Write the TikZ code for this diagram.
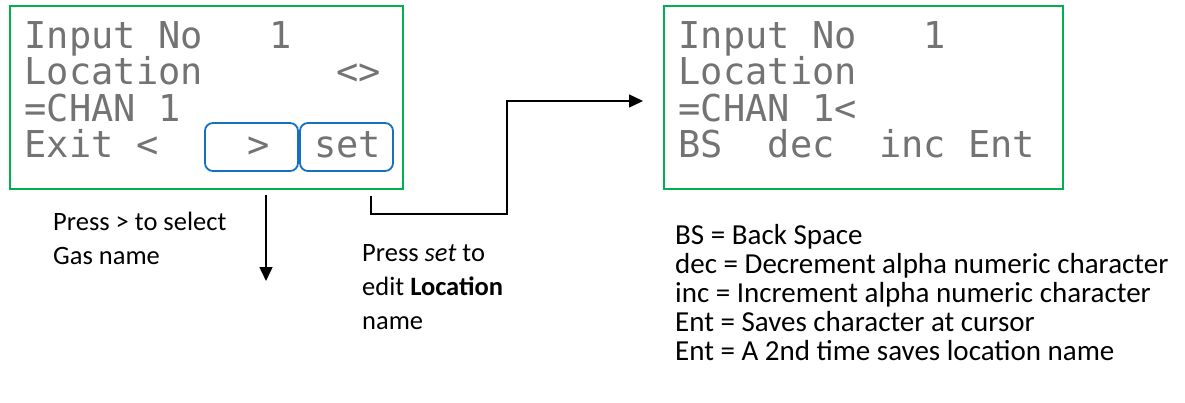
\documentclass[tikz,border=0pt]{standalone}
\usepackage{fontspec}
\setmainfont{Carlito}
\newfontfamily\lcdfont{DejaVu Sans Mono}
\usetikzlibrary{positioning, arrows.meta, calc}
\definecolor{lcdgreen}{RGB}{0,176,80}
\definecolor{keyblue}{RGB}{21,112,192}

\begin{document}
\begin{tikzpicture}[x=1pt, y=-1pt, >={Triangle[length=14pt, width=13pt]},
        lcd/.style={draw=lcdgreen, line width=2pt, minimum width=#1, minimum height=183pt, inner sep=0pt, anchor=north west},
        lcdrow/.style={font=\lcdfont\fontsize{37}{36}\selectfont, text=black!55, inner sep=0pt, anchor=base west},
        key/.style={draw=keyblue, line width=1.8pt, rounded corners=8pt, minimum width=93pt, minimum height=48pt, inner sep=0pt},
        note/.style={font=\fontsize{26.5}{34}\selectfont, align=left, inner sep=0pt, anchor=north west}]
        \useasboundingbox (0,0) rectangle (1185,402);

        % display before and after set
        \node[lcd=393pt] (lcdA) at (9,5) {};
        \node[lcd=399pt] (lcdB) at (663,5) {};

        \foreach \txt [count=\i] in {Input~No~~~1, Location~~~~~~<>, =CHAN~1, Exit~<~~~~>~~set}
          \node[lcdrow] (rowA\i) at ($(lcdA.north west)+(15.5,6.5+36.5*\i)$) {\txt};
        \foreach \txt [count=\i] in {Input~No~~~1, Location, =CHAN~1<, BS~~dec~~inc~Ent}
          \node[lcdrow] (rowB\i) at ($(lcdB.north west)+(15.5,6.5+36.5*\i)$) {\txt};

        \node[key] (keyNext) at (251.5,147) {};
        \node[key] (keySet) at (346.5,147) {};

        \coordinate (gasFrom) at (266,195);
        \coordinate (gasTo) at (266,281);
        \coordinate (setFrom) at (371,196);
        \coordinate (setTurn) at (507,214);

          \path[->, line width=1.5pt]
          (gasFrom) edge (gasTo);
          \draw[->, line width=1.5pt] (setFrom) |- (setTurn) |- ([xshift=-20pt, yshift=-3.5pt]lcdB.west);

        \node[note] (gasNote) at (53,212) {Press > to select\\Gas name};
        \node[note] (setNote) at (362,244) {Press \textit{set} to\\edit \textbf{Location}\\name};
        \node[note, font=\fontsize{29}{29}\selectfont] (keyNote) at (675,224)
          {BS = Back Space\\dec = Decrement alpha numeric character\\inc = Increment alpha numeric character\\Ent = Saves character at cursor\\Ent = A 2nd time saves location name};
      \end{tikzpicture}
\end{document}
